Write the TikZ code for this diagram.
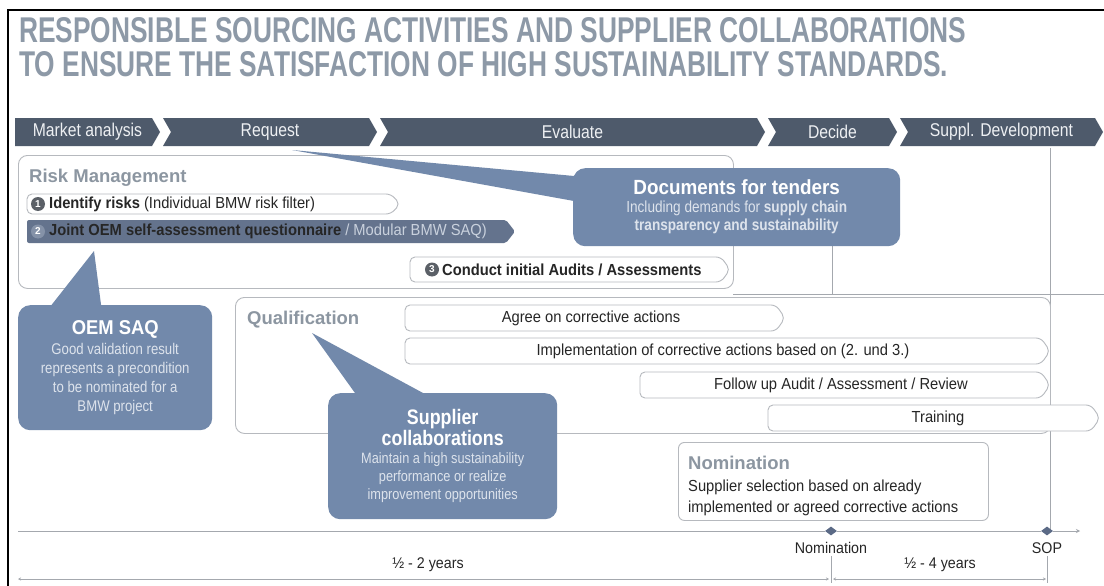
\documentclass[tikz,border=0pt]{standalone}
\usepackage{fontspec}
\usepackage{graphicx}
\setmainfont{Liberation Sans}
\newfontfamily\cnd[FakeStretch=0.92]{Liberation Sans}
\newfontfamily\cndn[FakeStretch=0.85]{Liberation Sans}
\usetikzlibrary{arrows.meta,shapes.geometric}
\definecolor{titlegray}{HTML}{8D99A7}
\definecolor{phasefill}{HTML}{4E5A6B}
\definecolor{phasetext}{HTML}{EEF0F3}
\definecolor{rowfill}{HTML}{64738D}
\definecolor{rowlight}{HTML}{C9D1DD}
\definecolor{callfill}{HTML}{7289AB}
\definecolor{callbody}{HTML}{DDE3EC}
\definecolor{boxline}{HTML}{B6B9BE}
\definecolor{headgray}{HTML}{8C96A1}
\definecolor{numgray}{HTML}{5B6067}
\definecolor{numtwo}{HTML}{8592A8}
\definecolor{txtdark}{HTML}{262626}
\definecolor{linegray}{HTML}{A4A8AE}
\definecolor{markfill}{HTML}{5B6A86}
\newcommand\phasechev[5]{%
  \fill[phasefill] (#1,118) -- ({#2-8},118) -- (#2,132) -- ({#2-8},146) -- (#1,146) -- ({#1+8*#3},132) -- cycle;
  \node[phasetxt] (#4) at ({(#1+#2)/2},132) {#5};}
\newcommand\chevbar[5]{%
  \path[#5] (#1,#3) -- ({#2-9},#3) -- (#2,{(#3+#4)/2}) -- ({#2-9},#4) -- (#1,#4) -- cycle;}
\begin{document}
\begin{tikzpicture}[x=1pt,y=-1pt,
  phasetxt/.style={text=phasetext, font=\cndn\fontsize{18.5}{20}\selectfont, inner sep=0},
  grpbox/.style={draw=boxline, line width=0.9pt, rounded corners=9pt, inner sep=0, anchor=north west, fill=white},
  grphead/.style={text=headgray, font=\bfseries\fontsize{18.5}{20}\selectfont, anchor=base west, inner sep=0},
  barline/.style={draw=boxline, line width=0.9pt, fill=white, rounded corners=5pt},
  bartxt/.style={font=\cnd\fontsize{16}{18}\selectfont, text=txtdark, inner sep=0},
  numcirc/.style={circle, fill=numgray, text=white, inner sep=0, minimum size=14pt, font=\bfseries\fontsize{10}{10}\selectfont},
  callout/.style={fill=callfill, rounded corners=12pt, inner sep=0, anchor=north west, align=center, text=callbody},
  tline/.style={draw=linegray, line width=0.9pt},
  dmark/.style={diamond, fill=markfill, minimum width=12pt, minimum height=9pt, inner sep=0},
  tltxt/.style={font=\cnd\fontsize{15.5}{17}\selectfont, text=txtdark, inner sep=0}
]
\useasboundingbox (0,0) rectangle (1104,586);
\fill[white] (0,0) rectangle (1104,586);
\draw[black, line width=2.5pt] (8,586) -- (8,10) -- (1104,10);

% title
\node[anchor=base west, inner sep=0, text=titlegray] (title1) at (19,43)
  {\resizebox{947pt}{25pt}{\bfseries RESPONSIBLE SOURCING ACTIVITIES AND SUPPLIER COLLABORATIONS}};
\node[anchor=base west, inner sep=0, text=titlegray] (title2) at (19,76)
  {\resizebox{929pt}{25pt}{\bfseries TO ENSURE THE SATISFACTION OF HIGH SUSTAINABILITY STANDARDS.}};

% phases
\phasechev{15}{160}{0}{market}{Market analysis}
\phasechev{163}{377}{1}{request}{Request}
\phasechev{380}{765}{1}{evaluate}{Evaluate}
\phasechev{768}{897}{1}{decide}{Decide}
\phasechev{900}{1103}{1}{suppl}{Suppl. Development}

% background grid lines
\coordinate (v1a) at (832,246); \coordinate (v1b) at (832,294);
\coordinate (h1a) at (733,294); \coordinate (h1b) at (1104,294);
\coordinate (v2a) at (1050,148); \coordinate (v2b) at (1050,531);
\draw[tline] (v1a) -- (v1b);
\draw[tline] (h1a) -- (h1b);
\draw[tline] (v2a) -- (v2b);

% risk management
\node[grpbox, minimum width=715pt, minimum height=133pt] (risk) at (18,155) {};
\node[grphead] (riskh) at (29,182) {Risk Management};
\chevbar{27}{400}{194}{214}{barline}
\node[numcirc] (n1) at (38,204) {1};
\node[bartxt, anchor=west] (r1) at (49,204) {\textbf{Identify risks} (Individual BMW risk filter)};
\chevbar{27}{515}{220}{243}{fill=rowfill, rounded corners=2pt}
\node[numcirc, fill=numtwo] (n2) at (38,231.5) {2};
\node[bartxt, anchor=west] (r2) at (49,231.5) {\textbf{Joint OEM self-assessment questionnaire}\ \textcolor{rowlight}{/ Modular BMW SAQ)}};
\chevbar{410}{730}{257}{282}{barline}
\node[numcirc] (n3) at (432,269.5) {3};
\node[bartxt, anchor=west, font=\cnd\bfseries\fontsize{16}{18}\selectfont] (r3) at (442,269.5) {Conduct initial Audits / Assessments};

% documents callout
\coordinate (docptr) at (292,150);
\coordinate (docb1) at (585,177);
\coordinate (docb2) at (585,203);
\fill[callfill] (docptr) -- (docb1) -- (docb2) -- cycle;
\node[callout, minimum width=327pt, minimum height=78pt, font=\cndn\fontsize{16}{18}\selectfont] (docs) at (573,168)
  {{\color{white}\cnd\bfseries\fontsize{20.5}{24}\selectfont Documents for tenders}\\[0pt]
   Including demands for \textbf{supply chain}\\
   \textbf{transparency and sustainability}};

% qualification
\node[grpbox, minimum width=815pt, minimum height=136pt] (qual) at (235,297) {};
\node[grphead] (qualh) at (247,324) {Qualification};
\chevbar{405}{785}{305}{331}{barline}
\node[bartxt] (agree) at (591,318) {Agree on corrective actions};
\chevbar{405}{1050}{338}{364}{barline}
\node[bartxt] (impl) at (723,351) {Implementation of corrective actions based on (2. und 3.)};
\chevbar{640}{1050}{372}{398}{barline}
\node[bartxt] (follow) at (841,385) {Follow up Audit / Assessment / Review};
\chevbar{768}{1100}{405}{431}{barline}
\node[bartxt] (train) at (938,418) {Training};

% OEM SAQ callout
\coordinate (oemptr) at (94,251);
\coordinate (oemb1) at (46,312);
\coordinate (oemb2) at (102,312);
\fill[callfill] (oemptr) -- (oemb1) -- (oemb2) -- cycle;
\node[callout, minimum width=194pt, minimum height=125pt, font=\cndn\fontsize{15.5}{19}\selectfont] (oem) at (18,305)
  {{\color{white}\cnd\bfseries\fontsize{20}{22}\selectfont OEM SAQ}\\[1pt]
   Good validation result\\ represents a precondition\\ to be nominated for a\\ BMW project};

% supplier collaborations callout
\coordinate (supptr) at (312,333);
\coordinate (supb1) at (360,400);
\coordinate (supb2) at (436,400);
\fill[callfill] (supptr) -- (supb1) -- (supb2) -- cycle;
\node[callout, minimum width=229pt, minimum height=126pt, font=\cndn\fontsize{15}{18}\selectfont] (supp) at (328,393)
  {{\color{white}\bfseries\fontsize{21}{23}\selectfont Supplier}\\[0pt]
   {\color{white}\bfseries\fontsize{21}{23}\selectfont collaborations}\\[0pt]
   Maintain a high sustainability\\ performance or realize\\ improvement opportunities};

% nomination
\node[draw=boxline, line width=0.9pt, rounded corners=6pt, fill=white, inner sep=0, anchor=north west,
      minimum width=310pt, minimum height=78pt] (nom) at (678,442) {};
\node[grphead] (nomh) at (688,469) {Nomination};
\node[bartxt, anchor=base west] (nomt1) at (688,491) {Supplier selection based on already};
\node[bartxt, anchor=base west] (nomt2) at (688,512) {implemented or agreed corrective actions};

% timeline
\coordinate (tl0) at (18,531);
\coordinate (tlend) at (1080,531);
\node[dmark] (dnom) at (831,531) {};
\node[dmark] (dsop) at (1047,531) {};
\draw[tline] (tl0) -- (dnom);
\draw[tline] (dnom) -- (dsop);
\draw[tline, -{Stealth[length=4pt,width=4pt]}] (dsop) -- (tlend);
\node[tltxt] (nomlab) at (831,548) {Nomination};
\node[tltxt] (soplab) at (1047,548) {SOP};
\node[tltxt] (dur1) at (428,565) {½ - 2 years};
\node[tltxt] (dur2) at (940,565) {½ - 4 years};
\coordinate (d0) at (18,579);
\coordinate (d1) at (829,579);
\coordinate (d2) at (833,579);
\coordinate (d3) at (1046,579);
\draw[tline, line width=0.7pt, {Stealth[length=3pt,width=3pt]}-{Stealth[length=3pt,width=3pt]}] (d0) -- (d1);
\draw[tline, line width=0.7pt, {Stealth[length=3pt,width=3pt]}-{Stealth[length=3pt,width=3pt]}] (d2) -- (d3);
\coordinate (t1a) at (831,556); \coordinate (t1b) at (831,583);
\coordinate (t2a) at (1047,556); \coordinate (t2b) at (1047,583);
\draw[tline, line width=0.6pt] (t1a) -- (t1b);
\draw[tline, line width=0.6pt] (t2a) -- (t2b);
\end{tikzpicture}
\end{document}
